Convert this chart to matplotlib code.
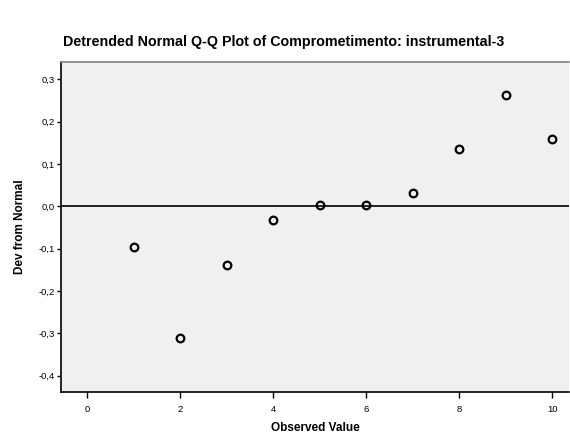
import matplotlib
matplotlib.use("Agg")
import matplotlib.pyplot as plt
from matplotlib.ticker import FuncFormatter

plt.rcParams['font.family'] = ['Liberation Sans', 'DejaVu Sans']

# observed values and their deviation from normal
observed = [1, 2, 3, 4, 5, 6, 7, 8, 9, 10]
dev_from_normal = [-0.095, -0.312, -0.139, -0.033, 0.004, 0.004, 0.032, 0.135, 0.262, 0.158]

x_ticks = [0, 2, 4, 6, 8, 10]
y_ticks = [-0.4, -0.3, -0.2, -0.1, 0.0, 0.1, 0.2, 0.3]

fig = plt.figure(figsize=(5.7, 4.36), dpi=100)
ax = fig.add_axes([0.107, 0.101, 0.891, 0.757])
ax.set_facecolor('#f0f0f0')

ax.axhline(0, color='black', linewidth=1.2, zorder=1)
ax.plot(observed, dev_from_normal, linestyle='none', marker='o', markersize=5.5,
        markerfacecolor='none', markeredgecolor='black', markeredgewidth=1.6, zorder=3)

ax.set_xlim(-0.56, 10.36)
ax.set_ylim(-0.4385, 0.341)
ax.set_xticks(x_ticks)
ax.set_yticks(y_ticks)
ax.yaxis.set_major_formatter(FuncFormatter(lambda v, p: f"{v:.1f}".replace('.', ',').replace('-0,0', '0,0')))

for side in ['left', 'bottom']:
    ax.spines[side].set_color('black')
    ax.spines[side].set_linewidth(1.2)
ax.spines['top'].set_color('#808080')
ax.spines['top'].set_linewidth(1.2)
ax.spines['right'].set_visible(False)

ax.tick_params(axis='both', direction='out', width=1, labelsize=6.8)
ax.tick_params(axis='x', length=4.3, pad=5)
ax.tick_params(axis='y', length=2.8, pad=1.5)

ax.set_xlabel('Observed Value', fontsize=8.5, fontweight='bold', labelpad=6)
ax.set_ylabel('Dev from Normal', fontsize=8.5, fontweight='bold', labelpad=9)
fig.suptitle('Detrended Normal Q-Q Plot of Comprometimento: instrumental-3',
             fontsize=10.3, fontweight='bold', x=0.497, y=0.92)

fig.savefig('out.png', dpi=100)
